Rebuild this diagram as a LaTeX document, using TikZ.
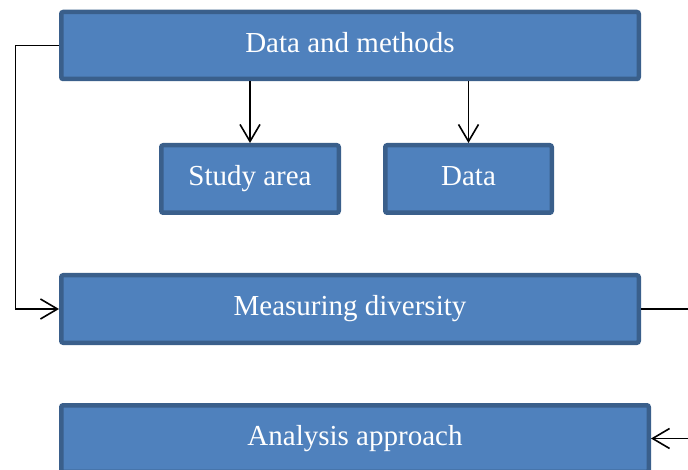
\documentclass[tikz,border=0pt]{standalone}
\usepackage{fontspec}
\setmainfont{Liberation Serif}
\usepackage{tikz}
\usetikzlibrary{shapes,arrows.meta}
\definecolor{boxfill}{HTML}{4F81BD}
\definecolor{boxline}{HTML}{3A5F8B}
\tikzstyle{block} = [rectangle, draw=boxline, fill=boxfill, line width=4.5pt,
    rounded corners=2pt, text=white, font=\fontsize{29}{34}\selectfont,
    inner sep=0pt, text height=20pt, text depth=6pt]
\tikzstyle{link} = [line width=1.6pt, -{Straight Barb[length=17pt,width=20pt,line width=1.6pt]}]

\begin{document}
\begin{tikzpicture}[x=1pt,y=-1pt]
  \useasboundingbox (0,0) rectangle (688,470);
  \node [block, minimum width=577.5pt, minimum height=67pt] (methods) at (350,45.5) {Data and methods};
  \node [block, minimum width=177.5pt, minimum height=67.5pt] (area) at (250,179) {Study area};
  \node [block, minimum width=166.5pt, minimum height=67.5pt] (data) at (468.5,179) {Data};
  \node [block, minimum width=577.5pt, minimum height=67.5pt] (measure) at (350,309) {Measuring diversity};
  \node [block, minimum width=587.5pt, minimum height=66.5pt] (analysis) at (355,438.5) {Analysis approach};

  \coordinate (leftturn) at (15.5,45.5);
  \coordinate (rightturn) at (692,309);

  \draw [link] (area.north |- methods.south) -- (area.north);
  \draw [link] (data.north |- methods.south) -- (data.north);
  \draw [link] (methods.west) -- (leftturn) |- (measure.west);
  \draw [link] (measure.east) -- (rightturn) |- (analysis.east);
\end{tikzpicture}
\end{document}
